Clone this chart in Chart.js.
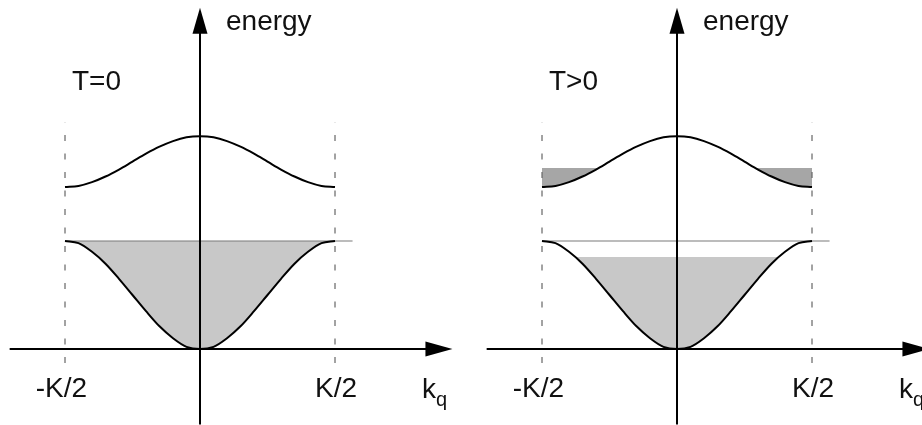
<!DOCTYPE html>
<html>
<head>
<meta charset="utf-8">
<script src="https://cdn.jsdelivr.net/npm/chart.js@4.4.0/dist/chart.umd.min.js"></script>
<style>
  html, body { margin: 0; padding: 0; background: #fff; overflow: hidden; }
  #wrap { position: relative; width: 922px; height: 425px; overflow: hidden; }
  canvas { position: absolute; top: 0; }
  #cold { left: 0; }
  #warm { left: 477px; }
</style>
</head>
<body>
<div id="wrap">
  <canvas id="cold" width="460" height="425"></canvas>
  <canvas id="warm" width="460" height="425"></canvas>
</div>
<script>
// wave vector in units of K/2, energy in arbitrary units
var kPoints = [-1, -0.9, -0.8, -0.7, -0.6, -0.5, -0.4, -0.3, -0.2, -0.1, 0,
               0.1, 0.2, 0.3, 0.4, 0.5, 0.6, 0.7, 0.8, 0.9, 1];
var lowerBand = [1.0, 0.98, 0.9, 0.79, 0.65, 0.5, 0.35, 0.21, 0.1, 0.02, 0,
                 0.02, 0.1, 0.21, 0.35, 0.5, 0.65, 0.79, 0.9, 0.98, 1.0];
var upperBand = [1.5, 1.51, 1.545, 1.597, 1.662, 1.735, 1.808, 1.873, 1.925, 1.96, 1.97,
                 1.96, 1.925, 1.873, 1.808, 1.735, 1.662, 1.597, 1.545, 1.51, 1.5];
var fermiLevel = 1.0;
var zoneEdges = [-1, 1];
var tickLabels = ['-K/2', 'K/2'];
var panelTitles = ['T=0', 'T>0'];
// occupation levels for T>0 (lower band filled up to, upper band filled up to)
var warmLowerLevel = 0.852;
var warmUpperLevel = 1.676;

var FONT = '28px "Liberation Sans", Arial, sans-serif';

function toXY(ys) {
  return kPoints.map(function (k, i) { return { x: k, y: ys[i] }; });
}

var axesPlugin = {
  id: 'axes',
  afterDatasetsDraw: function (chart) {
    var ctx = chart.ctx, xs = chart.scales.x, ys = chart.scales.y;
    var x0 = xs.getPixelForValue(0), y0 = ys.getPixelForValue(0);
    ctx.save();
    ctx.strokeStyle = '#000';
    ctx.fillStyle = '#000';
    ctx.lineWidth = 2;

    // k axis with arrow
    var xa = xs.getPixelForValue(-1.41), xb = xs.getPixelForValue(1.87);
    ctx.beginPath(); ctx.moveTo(xa, y0); ctx.lineTo(xb - 20, y0); ctx.stroke();
    ctx.beginPath();
    ctx.moveTo(xb, y0); ctx.lineTo(xb - 27, y0 - 7.5); ctx.lineTo(xb - 27, y0 + 7.5);
    ctx.closePath(); ctx.fill();

    // energy axis with arrow
    var ya = ys.getPixelForValue(-0.7), yb = ys.getPixelForValue(3.16);
    ctx.beginPath(); ctx.moveTo(x0, ya); ctx.lineTo(x0, yb + 20); ctx.stroke();
    ctx.beginPath();
    ctx.moveTo(x0, yb); ctx.lineTo(x0 - 7.5, yb + 26); ctx.lineTo(x0 + 7.5, yb + 26);
    ctx.closePath(); ctx.fill();

    // texts
    ctx.font = FONT;
    ctx.fillStyle = '#111';
    ctx.textBaseline = 'alphabetic';
    ctx.textAlign = 'left';
    ctx.fillText('energy', x0 + 26, 30);
    ctx.fillText(chart.options.plugins.axes.title, x0 - 128, 90);

    var half = ctx.measureText('K/2').width / 2;
    ctx.textAlign = 'right';
    tickLabels.forEach(function (lab, i) {
      ctx.fillText(lab, xs.getPixelForValue(zoneEdges[i]) + half + 1, 397);
    });

    ctx.textAlign = 'left';
    ctx.fillText('k', x0 + 222, 398);
    var kw = ctx.measureText('k').width;
    ctx.font = '20px "Liberation Sans", Arial, sans-serif';
    ctx.fillText('q', x0 + 222 + kw, 406);
    ctx.restore();
  }
};

function makeChart(id, title, lowerFill, upperFill) {
  var datasets = [
    {
      data: toXY(lowerBand),
      borderColor: '#000',
      borderWidth: 2,
      cubicInterpolationMode: 'monotone',
      fill: lowerFill
    },
    {
      data: toXY(upperBand),
      borderColor: '#000',
      borderWidth: 2,
      cubicInterpolationMode: 'monotone',
      fill: upperFill
    },
    {
      data: [{ x: zoneEdges[0], y: fermiLevel }, { x: 1.13, y: fermiLevel }],
      borderColor: '#7a7a7a',
      borderWidth: 1.2,
      fill: false
    }
  ];
  zoneEdges.forEach(function (k) {
    datasets.push({
      data: [{ x: k, y: -0.13 }, { x: k, y: 2.1 }],
      borderColor: '#666',
      borderWidth: 1.2,
      borderDash: [6, 12.5],
      fill: false
    });
  });

  return new Chart(document.getElementById(id), {
    type: 'line',
    data: { datasets: datasets },
    options: {
      responsive: false,
      animation: false,
      devicePixelRatio: 1,
      layout: { padding: 0 },
      elements: { point: { radius: 0 } },
      scales: {
        x: { type: 'linear', display: false, min: -1.4815, max: 1.9259 },
        y: { type: 'linear', display: false, min: -0.7037, max: 3.2315 }
      },
      plugins: {
        legend: { display: false },
        tooltip: { enabled: false },
        filler: { drawTime: 'beforeDatasetsDraw' },
        axes: { title: title }
      }
    },
    plugins: [axesPlugin]
  });
}

makeChart('cold', panelTitles[0],
  { target: { value: fermiLevel }, above: 'rgba(0,0,0,0)', below: '#c8c8c8' },
  false);

makeChart('warm', panelTitles[1],
  { target: { value: warmLowerLevel }, above: 'rgba(0,0,0,0)', below: '#c8c8c8' },
  { target: { value: warmUpperLevel }, above: 'rgba(0,0,0,0)', below: '#a6a6a6' });
</script>
</body>
</html>
